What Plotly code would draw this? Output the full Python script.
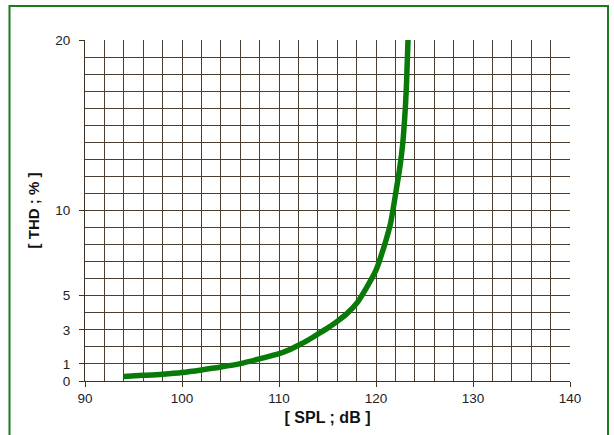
import plotly.graph_objects as go

spl_db = [94, 96, 98, 100, 102, 104, 106, 108, 110, 111, 112, 113, 114, 115, 116, 117, 118, 119, 120,
          120.5, 121, 121.5, 122, 122.5, 122.75, 123, 123.15, 123.3]
thd_pct = [0.27, 0.33, 0.4, 0.5, 0.65, 0.82, 1.02, 1.3, 1.6, 1.82, 2.1, 2.4, 2.75, 3.1, 3.5, 3.95, 4.55, 5.45, 6.5,
           7.3, 8.2, 9.25, 10.9, 12.7, 13.9, 15.8, 17.5, 20.0]

x_ticks = [90, 100, 110, 120, 130, 140]
y_ticks = [0, 1, 3, 5, 10, 20]

grid_col = "#4a3e33"
font_fam = "Liberation Sans, Arial, sans-serif"

fig = go.Figure()
fig.add_trace(go.Scatter(
    x=spl_db, y=thd_pct, mode="lines",
    line=dict(color="#087a08", width=5.5, shape="spline", smoothing=0.8),
    showlegend=False, hoverinfo="skip", cliponaxis=True,
))

fig.update_layout(
    width=614, height=435,
    margin=dict(l=85, r=44, t=40, b=49),
    paper_bgcolor="white", plot_bgcolor="white",
    font=dict(family=font_fam, size=13.5, color="#222222"),
    xaxis=dict(
        range=[90, 140], tickvals=x_ticks, ticks="outside", ticklen=5,
        tickcolor="#3e3224", showline=True, linecolor="#3e3224", linewidth=1,
        showgrid=True, gridcolor=grid_col, gridwidth=1,
        minor=dict(dtick=2, tick0=90, showgrid=True, gridcolor=grid_col, gridwidth=1, ticks=""),
        zeroline=False, mirror=False,
        title=dict(text="<b>[ SPL ; dB ]</b>", font=dict(size=16, color="#111111"), standoff=6),
        tickfont=dict(size=13.5, color="#222222"),
    ),
    yaxis=dict(
        range=[0, 20], tickvals=y_ticks, ticks="outside", ticklen=5,
        tickcolor="#3e3224", showline=True, linecolor="#3e3224", linewidth=1,
        showgrid=True, gridcolor=grid_col, gridwidth=1,
        minor=dict(dtick=1, tick0=0, showgrid=True, gridcolor=grid_col, gridwidth=1, ticks=""),
        zeroline=False, ticklabelstandoff=6,
        title=dict(text="<b>[ THD ; % ]</b>", font=dict(size=15, color="#111111"), standoff=12),
        tickfont=dict(size=13.5, color="#222222"),
    ),
    shapes=[dict(
        type="rect", xref="paper", yref="paper",
        x0=(9.5 - 85) / 485, x1=(608 - 85) / 485,
        y0=(386 - 445) / 346, y1=(386 - 5.5) / 346,
        line=dict(color="#1b7a1b", width=2), fillcolor="rgba(0,0,0,0)", layer="above",
    )],
)

fig.write_html("out.html", config={"displayModeBar": False},
               post_script="document.body.style.margin='0';document.body.style.overflow='hidden';")
